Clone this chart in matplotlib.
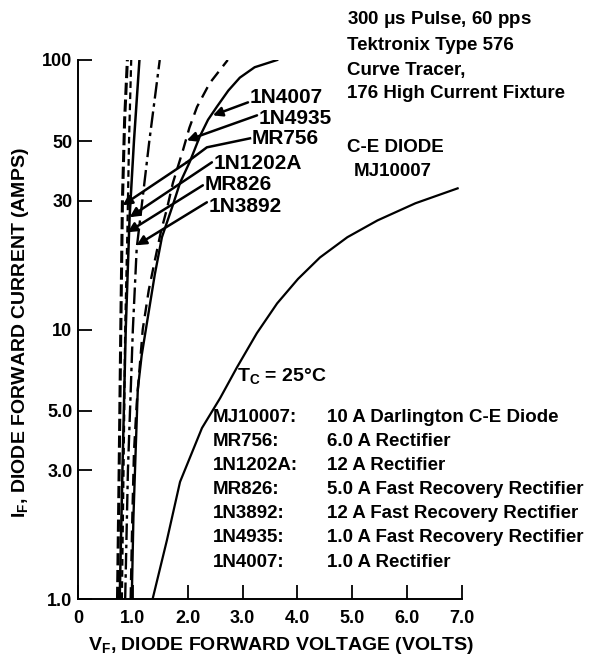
import numpy as np
import matplotlib
matplotlib.use('Agg')
import matplotlib.pyplot as plt
from matplotlib.ticker import NullLocator

plt.rcParams['font.family'] = ['Liberation Sans', 'DejaVu Sans']
plt.rcParams['font.weight'] = 'bold'
plt.rcParams['mathtext.fontset'] = 'custom'
plt.rcParams['mathtext.rm'] = 'Liberation Sans:bold'
plt.rcParams['mathtext.it'] = 'Liberation Sans:bold'
plt.rcParams['mathtext.bf'] = 'Liberation Sans:bold'

# forward voltage (V) vs forward current (A)
if_mr756 = [1, 3, 10, 30, 60, 100]
vf_mr756 = [0.72, 0.75, 0.78, 0.81, 0.85, 0.90]

if_1n1202a = [1, 3, 10, 26, 50, 100]
vf_1n1202a = [0.76, 0.81, 0.87, 0.94, 1.02, 1.12]

if_mr826 = [1, 3, 10, 23, 50, 100]
vf_mr826 = [0.80, 0.83, 0.86, 0.90, 0.93, 0.97]

if_1n3892 = [1, 3, 10, 20, 50, 100]
vf_1n3892 = [0.86, 0.91, 1.00, 1.07, 1.30, 1.49]

if_1n4935 = [1, 2, 3.5, 5.3, 10, 14, 18, 23, 28, 35, 46, 56, 67, 82, 100]
vf_1n4935 = [0.96, 0.99, 1.02, 1.07, 1.18, 1.29, 1.40, 1.51, 1.62, 1.73, 1.91, 2.03, 2.17, 2.40, 2.73]

if_1n4007 = [1, 2, 3.5, 6, 8, 11, 16, 22, 29, 35, 42, 52, 60, 67, 77, 86, 94, 100]
vf_1n4007 = [0.98, 1.01, 1.05, 1.09, 1.16, 1.27, 1.40, 1.53, 1.73, 1.86, 2.04, 2.22, 2.37,
             2.53, 2.74, 2.95, 3.22, 3.63]

if_mj10007 = [1, 1.65, 2.72, 4.31, 5.56, 7.25, 9.69, 12.5, 15.4, 18.5, 22.0, 25.4, 29.4, 33.4]
vf_mj10007 = [1.36, 1.62, 1.86, 2.26, 2.59, 2.90, 3.26, 3.63, 4.01, 4.41, 4.91, 5.46, 6.15, 6.92]

xticks = [0, 1, 2, 3, 4, 5, 6, 7]
xlabels = ['0', '1.0', '2.0', '3.0', '4.0', '5.0', '6.0', '7.0']
yticks = [1, 3, 5, 10, 30, 50, 100]
ylabels = ['1.0', '3.0', '5.0', '10', '30', '50', '100']

legend_parts = ['MJ10007:', 'MR756:', '1N1202A:', 'MR826:', '1N3892:', '1N4935:', '1N4007:']
legend_desc = ['10 A Darlington C-E Diode', '6.0 A Rectifier', '12 A Rectifier',
               '5.0 A Fast Recovery Rectifier', '12 A Fast Recovery Rectifier',
               '1.0 A Fast Recovery Rectifier', '1.0 A Rectifier']

W, H = 605, 660
def px(x, y):
    return x / W, 1 - y / H

fig = plt.figure(figsize=(6.05, 6.6), dpi=100)
ax = fig.add_axes([78 / W, 61 / H, 384 / W, 539 / H])
ax.set_yscale('log')
ax.set_xlim(0, 7)
ax.set_ylim(1, 100)

k = 'black'
ax.plot(vf_mr756, if_mr756, color=k, lw=2.2, dashes=(4, 1.5))
ax.plot(vf_1n1202a, if_1n1202a, color=k, lw=1.8)
ax.plot(vf_mr826, if_mr826, color=k, lw=1.6, dashes=(3, 2))
ax.plot(vf_1n3892, if_1n3892, color=k, lw=1.7, dashes=(7, 2, 1.5, 2))
ax.plot(vf_1n4935, if_1n4935, color=k, lw=1.7, dashes=(5, 3))
ax.plot(vf_1n4007, if_1n4007, color=k, lw=1.7)
ax.plot(vf_mj10007, if_mj10007, color=k, lw=1.6)

for s in ['top', 'right']:
    ax.spines[s].set_visible(False)
for s in ['left', 'bottom']:
    ax.spines[s].set_linewidth(1.4)

ax.set_xticks(xticks)
ax.set_xticklabels(xlabels)
ax.set_yticks(yticks)
ax.set_yticklabels(ylabels)
ax.yaxis.set_minor_locator(NullLocator())
ax.tick_params(direction='in', length=10, width=1.3, labelsize=13)
ax.tick_params(axis='x', pad=8)
ax.tick_params(axis='y', pad=4)

# leader lines (pixel positions converted to data coords)
def to_data(x, y):
    return (x - 78.5) / 54.7, 10 ** ((599 - y) / 269.7)

arrow = dict(arrowstyle='-|>', color=k, lw=1.8, mutation_scale=14, shrinkA=0, shrinkB=0)
leaders = [
    ('1N4007', (248, 102), (213, 115), (250, 97)),
    ('1N4935', (257, 115), (187, 140), (259, 118)),
    ('1N1202A', (212, 162), (130, 217), (214, 163)),
    ('MR826', (203, 185), (128, 232), (205, 184)),
    ('1N3892', (207, 202), (137, 245), (209, 206)),
]
for name, start, tip, tpos in leaders:
    ax.annotate('', xy=to_data(*tip), xytext=to_data(*start), arrowprops=arrow)
    ax.text(*to_data(*tpos), name, fontsize=15, ha='left', va='center')

# MR756 leader bends before heading to the curve
bend = [to_data(250, 138), to_data(207, 147), to_data(187, 162)]
ax.plot([p[0] for p in bend], [p[1] for p in bend], color=k, lw=1.8, clip_on=False)
ax.annotate('', xy=to_data(123, 205), xytext=to_data(187, 162), arrowprops=arrow)
ax.text(*to_data(252, 138), 'MR756', fontsize=15, ha='left', va='center')

fig.text(*px(347, 20), '300 $\\mu$s Pulse, 60 pps', fontsize=13.5, va='center')
fig.text(*px(347, 45), 'Tektronix Type 576', fontsize=13.5, va='center')
fig.text(*px(347, 70), 'Curve Tracer,', fontsize=13.5, va='center')
fig.text(*px(347, 94), '176 High Current Fixture', fontsize=13.5, va='center')
fig.text(*px(347, 148), 'C-E DIODE', fontsize=13.5, va='center')
fig.text(*px(354, 172), 'MJ10007', fontsize=13.5, va='center')

fig.text(*px(237, 376), 'T$_{\\rm C}$ = 25°C', fontsize=14, va='center')
for i, (p, d) in enumerate(zip(legend_parts, legend_desc)):
    y = 417 + i * 24.2
    fig.text(*px(213, y), p, fontsize=13.5, va='center')
    fig.text(*px(327, y), d, fontsize=13.5, va='center')

fig.text(*px(21, 333), 'I$_{\\rm F}$, DIODE FORWARD CURRENT (AMPS)', fontsize=14,
         rotation=90, ha='center', va='center')
fig.text(*px(281, 646), 'V$_{\\rm F}$, DIODE FORWARD VOLTAGE (VOLTS)', fontsize=14,
         ha='center', va='center')

fig.savefig('out.png', dpi=100, facecolor='white')
